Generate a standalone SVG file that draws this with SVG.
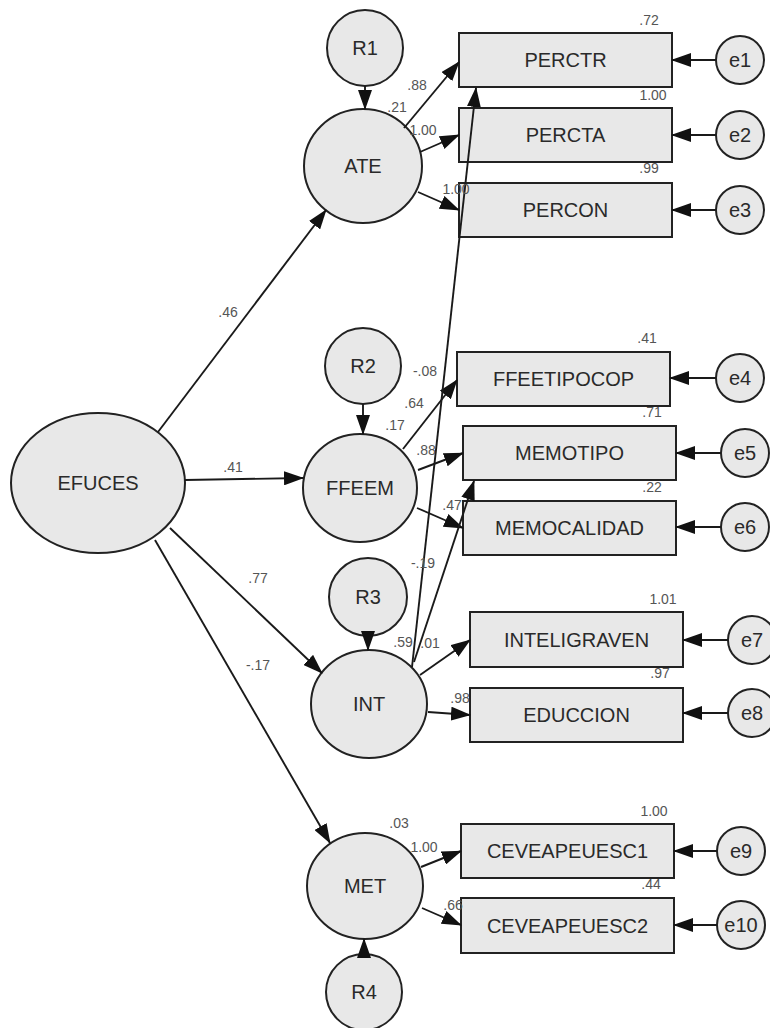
<svg xmlns="http://www.w3.org/2000/svg" width="770" height="1028" viewBox="0 0 770 1028">
<style>
.n{fill:#e8e8e8;stroke:#222;stroke-width:2}
.t{font-family:"Liberation Sans",Arial,sans-serif;font-size:20px;fill:#2a2a2a;text-anchor:middle}
.c line{stroke:#1a1a1a;stroke-width:1.9;marker-end:url(#ah)}
.v{font-family:"Liberation Sans",Arial,sans-serif;font-size:14px;fill:#555;text-anchor:middle}
</style>
<defs>
<marker id="ah" markerUnits="userSpaceOnUse" markerWidth="20" markerHeight="14" refX="19" refY="7" orient="auto">
<path d="M0,0 L20,7 L0,14 z" fill="#111"/>
</marker>
</defs>
<rect width="770" height="1028" fill="#fff"/>
<g id="EFUCES"><ellipse class="n" cx="98" cy="483" rx="87" ry="70"/><text class="t" x="98" y="490">EFUCES</text></g>
<g id="ATE"><ellipse class="n" cx="363" cy="166" rx="59" ry="57"/><text class="t" x="363" y="173">ATE</text></g>
<g id="FFEEM"><ellipse class="n" cx="360" cy="488" rx="57" ry="54"/><text class="t" x="360" y="495">FFEEM</text></g>
<g id="INT"><ellipse class="n" cx="369" cy="704" rx="58" ry="54"/><text class="t" x="369" y="711">INT</text></g>
<g id="MET"><ellipse class="n" cx="365" cy="886" rx="58" ry="53"/><text class="t" x="365" y="893">MET</text></g>
<g id="R1"><circle class="n" cx="365" cy="48" r="38"/><text class="t" x="365" y="55">R1</text></g>
<g id="R2"><circle class="n" cx="363" cy="366" r="38"/><text class="t" x="363" y="373">R2</text></g>
<g id="R3"><circle class="n" cx="368" cy="597" r="39"/><text class="t" x="368" y="604">R3</text></g>
<g id="R4"><circle class="n" cx="364" cy="992" r="38"/><text class="t" x="364" y="999">R4</text></g>
<g id="PERCTR"><rect class="n" x="459" y="33" width="213" height="54"/><text class="t" x="565.5" y="67">PERCTR</text></g>
<g id="PERCTA"><rect class="n" x="459" y="108" width="213" height="54"/><text class="t" x="565.5" y="142">PERCTA</text></g>
<g id="PERCON"><rect class="n" x="459" y="183" width="213" height="54"/><text class="t" x="565.5" y="217">PERCON</text></g>
<g id="FFEETIPOCOP"><rect class="n" x="457" y="352" width="213" height="54"/><text class="t" x="563.5" y="386">FFEETIPOCOP</text></g>
<g id="MEMOTIPO"><rect class="n" x="463" y="426" width="213" height="54"/><text class="t" x="569.5" y="460">MEMOTIPO</text></g>
<g id="MEMOCALIDAD"><rect class="n" x="463" y="501" width="213" height="54"/><text class="t" x="569.5" y="535">MEMOCALIDAD</text></g>
<g id="INTELIGRAVEN"><rect class="n" x="470" y="612" width="213" height="55"/><text class="t" x="576.5" y="647">INTELIGRAVEN</text></g>
<g id="EDUCCION"><rect class="n" x="470" y="688" width="213" height="54"/><text class="t" x="576.5" y="722">EDUCCION</text></g>
<g id="CEVEAPEUESC1"><rect class="n" x="461" y="824" width="213" height="54"/><text class="t" x="567.5" y="858">CEVEAPEUESC1</text></g>
<g id="CEVEAPEUESC2"><rect class="n" x="461" y="898" width="213" height="55"/><text class="t" x="567.5" y="933">CEVEAPEUESC2</text></g>
<g id="e1"><circle class="n" cx="740" cy="60" r="24"/><text class="t" x="740" y="67">e1</text></g>
<g id="e2"><circle class="n" cx="740" cy="135" r="24"/><text class="t" x="740" y="142">e2</text></g>
<g id="e3"><circle class="n" cx="740" cy="210" r="24"/><text class="t" x="740" y="217">e3</text></g>
<g id="e4"><circle class="n" cx="740" cy="378" r="24"/><text class="t" x="740" y="385">e4</text></g>
<g id="e5"><circle class="n" cx="745" cy="453" r="24"/><text class="t" x="745" y="460">e5</text></g>
<g id="e6"><circle class="n" cx="745" cy="527" r="24"/><text class="t" x="745" y="534">e6</text></g>
<g id="e7"><circle class="n" cx="752" cy="640" r="24"/><text class="t" x="752" y="647">e7</text></g>
<g id="e8"><circle class="n" cx="752" cy="713" r="24"/><text class="t" x="752" y="720">e8</text></g>
<g id="e9"><circle class="n" cx="741" cy="851" r="24"/><text class="t" x="741" y="858">e9</text></g>
<g id="e10"><circle class="n" cx="741" cy="925" r="24"/><text class="t" x="741" y="932">e10</text></g>
<g id="connectors" class="c">
<line x1="158" y1="432" x2="326" y2="210"/>
<line x1="185" y1="480" x2="303" y2="478"/>
<line x1="170" y1="528" x2="322" y2="673"/>
<line x1="155" y1="540" x2="330" y2="843"/>
<line x1="365" y1="86" x2="365" y2="109"/>
<line x1="363" y1="404" x2="363" y2="434"/>
<line x1="368" y1="636" x2="368" y2="650"/>
<line x1="364" y1="954" x2="364" y2="939"/>
<line x1="404" y1="128" x2="459" y2="62"/>
<line x1="420" y1="152" x2="459" y2="135"/>
<line x1="418" y1="192" x2="459" y2="210"/>
<line x1="403" y1="449" x2="457" y2="380"/>
<line x1="418" y1="470" x2="463" y2="453"/>
<line x1="417" y1="508" x2="463" y2="528"/>
<line x1="412" y1="667" x2="476" y2="88"/>
<line x1="414" y1="662" x2="474" y2="481"/>
<line x1="420" y1="675" x2="470" y2="640"/>
<line x1="428" y1="712" x2="470" y2="715"/>
<line x1="421" y1="867" x2="461" y2="851"/>
<line x1="422" y1="908" x2="461" y2="925"/>
<line x1="716" y1="60" x2="672" y2="60"/>
<line x1="716" y1="135" x2="672" y2="135"/>
<line x1="716" y1="210" x2="672" y2="210"/>
<line x1="716" y1="378" x2="670" y2="378"/>
<line x1="721" y1="453" x2="676" y2="453"/>
<line x1="721" y1="527" x2="676" y2="527"/>
<line x1="728" y1="640" x2="683" y2="640"/>
<line x1="728" y1="713" x2="683" y2="713"/>
<line x1="717" y1="851" x2="674" y2="851"/>
<line x1="717" y1="925" x2="674" y2="925"/>
</g>
<g id="labels">
<text class="v" x="649" y="25">.72</text>
<text class="v" x="653" y="100">1.00</text>
<text class="v" x="649" y="173">.99</text>
<text class="v" x="417" y="90">.88</text>
<text class="v" x="397" y="112">.21</text>
<text class="v" x="423" y="135">1.00</text>
<text class="v" x="456" y="194">1.00</text>
<text class="v" x="647" y="343">.41</text>
<text class="v" x="425" y="376">-.08</text>
<text class="v" x="414" y="408">.64</text>
<text class="v" x="395" y="430">.17</text>
<text class="v" x="426" y="455">.88</text>
<text class="v" x="652" y="417">.71</text>
<text class="v" x="652" y="492">.22</text>
<text class="v" x="452" y="510">.47</text>
<text class="v" x="423" y="568">-.19</text>
<text class="v" x="663" y="604">1.01</text>
<text class="v" x="660" y="678">.97</text>
<text class="v" x="403" y="647">.59</text>
<text class="v" x="430" y="648">.01</text>
<text class="v" x="460" y="703">.98</text>
<text class="v" x="654" y="816">1.00</text>
<text class="v" x="651" y="889">.44</text>
<text class="v" x="399" y="828">.03</text>
<text class="v" x="424" y="852">1.00</text>
<text class="v" x="453" y="910">.66</text>
<text class="v" x="228" y="317">.46</text>
<text class="v" x="233" y="472">.41</text>
<text class="v" x="258" y="583">.77</text>
<text class="v" x="258" y="670">-.17</text>
</g>
</svg>
